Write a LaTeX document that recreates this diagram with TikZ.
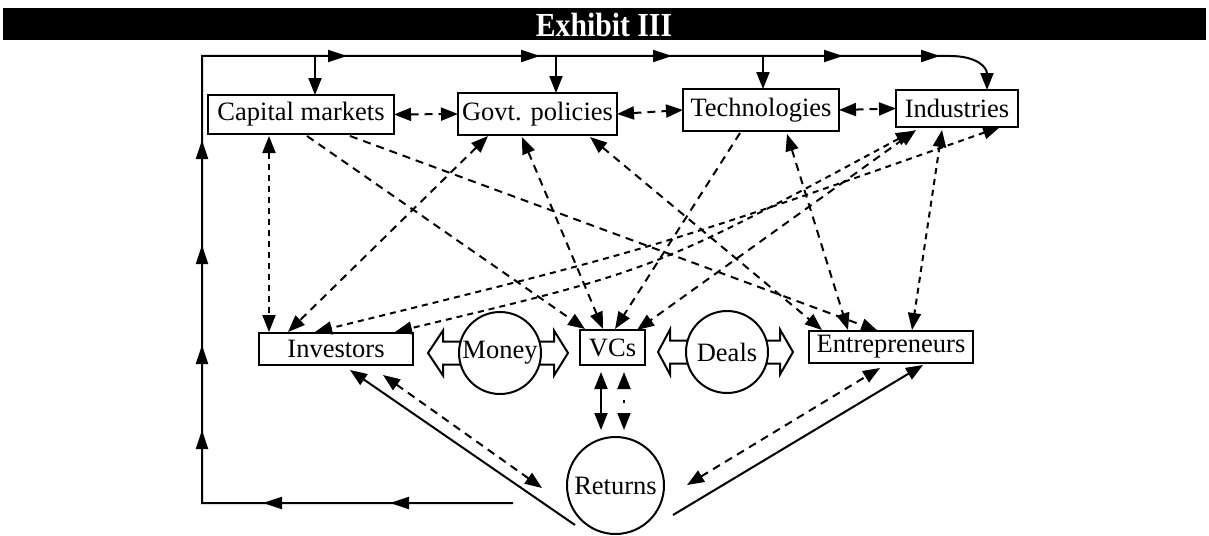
\documentclass[tikz,border=0pt]{standalone}
\usepackage{fontspec}
\setmainfont{Liberation Serif}
\usetikzlibrary{arrows.meta,calc,decorations.markings}
\begin{document}
\begin{tikzpicture}[x=1pt,y=-1pt,
  lw/.style={line width=2pt},
  box/.style={draw,lw,inner sep=2pt,outer sep=0pt,font=\fontsize{26.5}{30}\selectfont},
  circ/.style={draw,lw,circle,fill=white,inner sep=0pt,outer sep=0pt,font=\fontsize{26.5}{30}\selectfont},
  dsh/.style={lw,dash pattern=on 8pt off 6pt},
  fdsh/.style={lw,dash pattern=on 6pt off 5pt},
  >={Triangle[length=17pt,width=13pt]},
  blk/.style={draw,lw,fill=white,line join=miter},
  loopmark/.style={postaction={decorate},decoration={markings,
    mark=at position 123pt with {\arrow{Triangle[length=19pt,width=12pt]}},
    mark=at position 250pt with {\arrow{Triangle[length=19pt,width=12pt]}},
    mark=at position 384pt with {\arrow{Triangle[length=19pt,width=12pt]}},
    mark=at position 469pt with {\arrow{Triangle[length=19pt,width=12pt]}},
    mark=at position 569pt with {\arrow{Triangle[length=19pt,width=12pt]}},
    mark=at position 674pt with {\arrow{Triangle[length=19pt,width=12pt]}},
    mark=at position 903pt with {\arrow{Triangle[length=19pt,width=12pt]}},
    mark=at position 1096pt with {\arrow{Triangle[length=19pt,width=12pt]}},
    mark=at position 1228pt with {\arrow{Triangle[length=19pt,width=12pt]}},
    mark=at position 1399pt with {\arrow{Triangle[length=19pt,width=12pt]}},
    mark=at position 1496pt with {\arrow{Triangle[length=19pt,width=12pt]}}}},
]
\useasboundingbox (0,0) rectangle (1209,535);

% title bar
\fill[black] (3,8) rectangle (1206,40);
\node[text=white,font=\fontsize{33}{35}\selectfont\bfseries] (title) at (604,24.5) {\scalebox{0.9}[1.02]{Exhibit III}};

% boxes
\node[box,minimum width=186pt,minimum height=39pt] (cm) at (301,114.5) {Capital markets};
\node[box,minimum width=159pt,minimum height=42pt] (gp) at (537.5,114) {Govt. policies};
\node[box,minimum width=156pt,minimum height=42pt] (tech) at (761,110) {Technologies};
\node[box,minimum width=122pt,minimum height=37pt] (ind) at (957,108.5) {Industries};
\node[box,minimum width=154pt,minimum height=32pt] (inv) at (336,349) {Investors};
\node[box,minimum width=65pt,minimum height=35pt] (vcs) at (612.5,347.5) {VCs};
\node[box,minimum width=164pt,minimum height=32pt] (ent) at (891,347) {Entrepreneurs};

% block arrows around Money and Deals
\coordinate (mc) at (500,353);
\coordinate (dc) at (727,352);
\begin{scope}[shift={(mc)}]
  \draw[blk] (-36,-11.5) -- (-57,-11.5) -- (-57,-22.5) -- (-72,0) -- (-57,22.5) -- (-57,11.5) -- (-36,11.5);
  \draw[blk] (36,-11.5) -- (54,-11.5) -- (54,-22.5) -- (68,0) -- (54,22.5) -- (54,11.5) -- (36,11.5);
\end{scope}
\begin{scope}[shift={(dc)}]
  \draw[blk] (-36,-11.5) -- (-57,-11.5) -- (-57,-22.5) -- (-69,0) -- (-57,22.5) -- (-57,11.5) -- (-36,11.5);
  \draw[blk] (36,-11.5) -- (53,-11.5) -- (53,-22.5) -- (66,0) -- (53,22.5) -- (53,11.5) -- (36,11.5);
\end{scope}
\node[circ,minimum size=82pt] (money) at (mc) {Money};
\node[circ,minimum size=82pt] (deals) at (dc) {Deals};
\node[circ,minimum size=97pt] (ret) at (615.5,485.5) {Returns};

% feedback loop
\coordinate (lb) at ($(ret.center)+(-102.5,17.5)$);
\coordinate (c1) at (202,503);
\coordinate (c2) at (202,56);
\coordinate (c3) at (950,56);
\draw[lw,->,loopmark] (lb) -- (c1) -- (c2) -- (c3) .. controls (978,56) and ($(ind.north west)+(91,-22)$) .. ($(ind.north west)+(91,0)$);
\draw[lw,->] ($(cm.north west)+(107,-39)$) -- ($(cm.north west)+(107,0)$);
\draw[lw,->] ($(gp.north west)+(98,-37)$) -- ($(gp.north west)+(98,0)$);
\draw[lw,->] ($(tech.north west)+(80,-33)$) -- ($(tech.north west)+(80,0)$);

% top row links
\draw[dsh,<->] (cm.east) -- (gp.west);
\draw[dsh,<->] (gp.east) -- (tech.west);
\draw[dsh,<->] (tech.east) -- (ind.west);

% diagonal links
\draw[fdsh,<->] ($(cm.south west)+(61,2)$) -- ($(inv.north west)+(10,-1)$);
\draw[dsh,->] ($(cm.south west)+(99,2)$) -- ($(vcs.north west)+(5,-1)$);
\draw[dsh,->] ($(cm.south west)+(142,2)$) -- ($(ent.north west)+(69,0)$);
\draw[dsh,<->] ($(gp.south west)+(30,1)$) -- ($(inv.north west)+(29,-1)$);
\draw[dsh,<->] ($(gp.south west)+(64,2)$) -- ($(vcs.north west)+(23,-1)$);
\draw[dsh,<->] ($(gp.south west)+(132,2)$) -- ($(ent.north west)+(13,-1)$);
\draw[dsh,->] ($(tech.south west)+(57,2)$) -- ($(vcs.north west)+(35,-1)$);
\draw[dsh,<->] ($(tech.south west)+(104,3)$) -- ($(ent.north west)+(39,-1)$);
\draw[dsh,<->] ($(ind.south west)+(20,3)$) -- ($(vcs.north west)+(57,0)$);
\draw[fdsh,<->] ($(ind.south west)+(46,3)$) -- ($(ent.north west)+(103,-1)$);
\draw[fdsh,<->] ($(ind.south west)+(104,0)$) .. controls (657,248) .. ($(inv.north west)+(56,-1)$);
\draw[fdsh,<->] ($(ind.south west)+(17,4)$) .. controls (655,270) .. ($(inv.north west)+(136,-1)$);

% links to returns
\draw[lw,<-] ($(inv.south west)+(91,5)$) -- ($(ret.center)+(-40.5,39.5)$);
\draw[dsh,<->] ($(inv.south west)+(124,10)$) -- ($(ret.center)+(-73.5,2.5)$);
\draw[lw,->] ($(ret.center)+(57.5,29.5)$) -- ($(ent.south west)+(114,2)$);
\draw[dsh,<->] ($(ret.center)+(71.5,-0.5)$) -- ($(ent.south west)+(71,5)$);
\draw[lw,<->] ($(vcs.south west)+(21,7)$) -- ($(ret.north)+(-14.5,-7)$);
\draw[lw,<->,dash pattern=on 0pt off 11pt on 3pt off 11pt] ($(vcs.south west)+(44,7)$) -- ($(ret.north)+(8.5,-7)$);
\end{tikzpicture}
\end{document}
